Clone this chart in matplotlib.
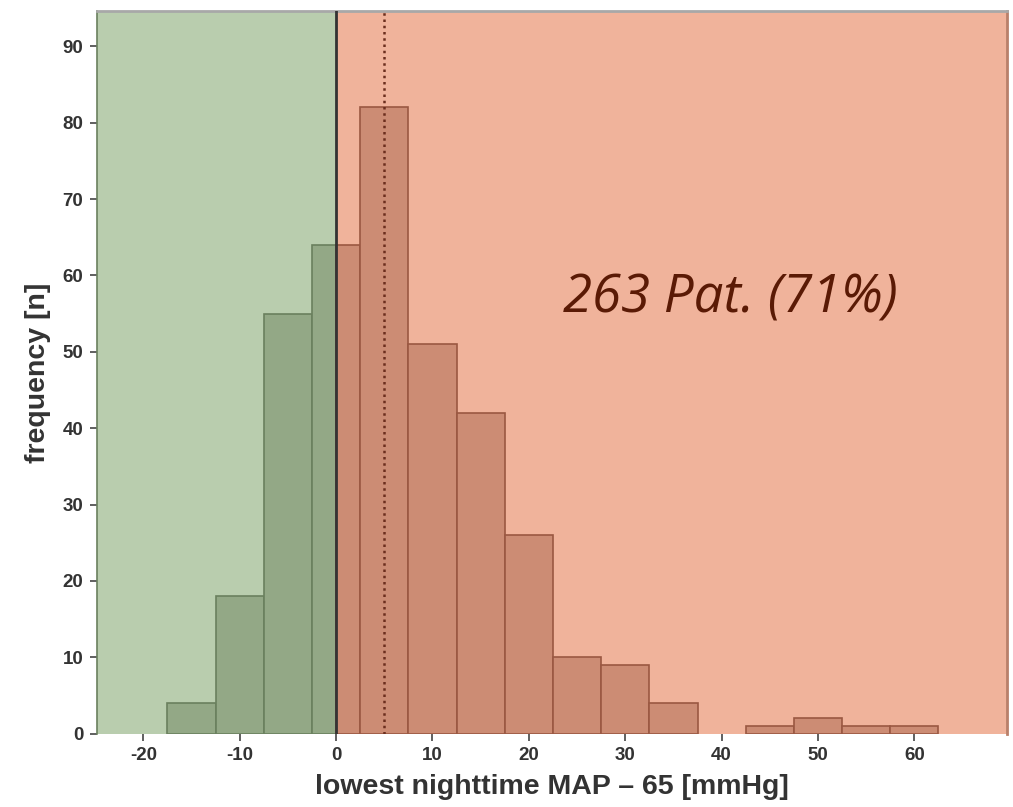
import numpy as np
import matplotlib
matplotlib.use('Agg')
import matplotlib.pyplot as plt

plt.rcParams['axes.unicode_minus'] = False

# histogram of lowest nighttime MAP - 65 (bin width 5)
bin_left = [-17.5, -12.5, -7.5, -2.5, 2.5, 7.5, 12.5, 17.5, 22.5, 27.5, 32.5, 37.5, 42.5, 47.5, 52.5, 57.5]
counts = [4, 18, 55, 64, 82, 51, 42, 26, 10, 9, 4, 0, 1, 2, 1, 1]
bin_width = 5
threshold = 0
median_line = 5
annot = '263 Pat. (71%)'

green_bg = '#b9cdae'
green_bar = '#93a886'
green_edge = '#6a805e'
red_bg = '#f0b39b'
red_bar = '#cc8c74'
red_edge = '#9a5842'

fig = plt.figure(figsize=(10.13, 8.07), dpi=100)
ax = fig.add_axes([0.0958, 0.091, 0.8982, 0.895])

xmin, xmax = -24.8, 69.6
ymax = 94.6
ax.axvspan(xmin, threshold, color=green_bg, zorder=0, lw=0)
ax.axvspan(threshold, xmax, ymin=-0.003, color=red_bg, zorder=0, lw=0)

# split bars at the threshold so each side gets its own colour
for left, c in zip(bin_left, counts):
    if c == 0:
        continue
    right = left + bin_width
    if right <= threshold:
        ax.bar(left, c, width=bin_width, align='edge', color=green_bar, edgecolor=green_edge, lw=1.2, zorder=2)
    elif left >= threshold:
        ax.bar(left, c, width=bin_width, align='edge', color=red_bar, edgecolor=red_edge, lw=1.2, zorder=2)
    else:
        ax.bar(left, c, width=threshold - left, align='edge', color=green_bar, edgecolor=green_edge, lw=1.2, zorder=2)
        ax.bar(threshold, c, width=right - threshold, align='edge', color=red_bar, edgecolor=red_edge, lw=1.2, zorder=2)

ax.axvline(threshold, color='#333333', lw=2, zorder=3)
ax.axvline(median_line, color='#6b2e1e', lw=1.8, ls=(0, (1, 1.5)), zorder=3)

ax.text(40.9, 57.0, annot, fontsize=38, style='italic', family='Open Sans',
        color='#5a1a05', ha='center', va='center', zorder=4)

ax.set_xlim(xmin, xmax)
ax.set_ylim(0, ymax)
ax.set_xticks(np.arange(-20, 61, 10))
ax.set_yticks(np.arange(0, 91, 10))
ax.tick_params(axis='both', length=5, width=1.2, color='#444444', labelsize=13.5,
               labelcolor='#333333', pad=5)
for lab in ax.get_xticklabels() + ax.get_yticklabels():
    lab.set_fontweight('bold')
    lab.set_family('Liberation Sans')

ax.spines['top'].set_color('#a8a8a8')
ax.spines['top'].set_linewidth(2)
ax.spines['right'].set_color('#b9806a')
ax.spines['right'].set_linewidth(2)
ax.spines['left'].set_color(green_edge)
ax.spines['left'].set_linewidth(1.2)
ax.spines['bottom'].set_visible(False)

ax.set_xlabel('lowest nighttime MAP \u2013 65 [mmHg]', fontsize=20.5, fontweight='bold',
              family='Liberation Sans', color='#333333', labelpad=7)
ax.set_ylabel('frequency [n]', fontsize=20.5, fontweight='bold',
              family='Liberation Sans', color='#333333', labelpad=8)

plt.savefig('out.png', dpi=100)
